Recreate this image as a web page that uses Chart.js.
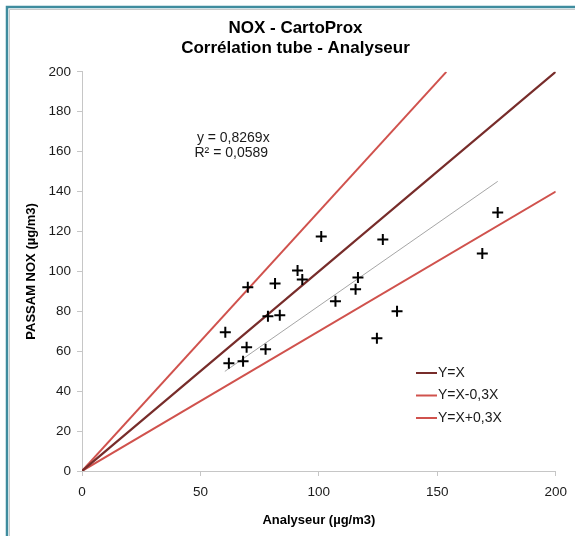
<!DOCTYPE html>
<html>
<head>
<meta charset="utf-8">
<script src="https://cdn.jsdelivr.net/npm/chart.js@4.4.1/dist/chart.umd.min.js"></script>
<style>
  html, body { margin: 0; padding: 0; background: #fff; }
  #wrap { width: 575px; height: 536px; }
</style>
</head>
<body>
<div id="wrap"><canvas id="noxChart" width="575" height="536"></canvas></div>
<script>
// mesures : analyseur (x) / tube passif (y)
const mesureX = [70, 81.5, 101, 91, 93, 127, 175.5, 169, 116.5, 115.5, 107, 133, 124.5, 78.5, 83.5, 60.5, 69.5, 77.5, 62, 68];
const mesureY = [92, 94, 117.5, 100.5, 96, 116, 129.5, 109, 97, 91, 85, 80, 66.5, 77.5, 78, 69.5, 62, 61, 54, 55];

// droite de tendance
const trendX = [60.3, 175.5];
const trendY = [49.9, 145.1];

// droites de reference
const refX = [0, 200];
const refY = [0, 200];
const lowX = [0, 200];
const lowY = [0, 140];
const highX = [0, 153.8];
const highY = [0, 200];

const xTicks = [0, 50, 100, 150, 200];
const yTicks = [0, 20, 40, 60, 80, 100, 120, 140, 160, 180, 200];

const titleLines = ['NOX - CartoProx', 'Corrélation tube - Analyseur'];
const equationLines = ['y = 0,8269x', 'R² = 0,0589'];

const FONT = "'Liberation Sans', Arial, sans-serif";
const toPoints = (xs, ys) => xs.map((x, i) => ({ x: x, y: ys[i] }));

Chart.defaults.font.family = FONT;
Chart.defaults.color = '#1a1a1a';

// fond + cadre
const cadre = {
    id: 'cadre',
    beforeDraw(chart) {
        const c = chart.ctx;
        c.save();
        c.fillStyle = '#fff';
        c.fillRect(0, 0, chart.width, chart.height);
        c.strokeStyle = '#3f8c9e';
        c.lineWidth = 2.5;
        c.beginPath();
        c.moveTo(7, chart.height); c.lineTo(7, 7); c.lineTo(chart.width, 7);
        c.stroke();
        c.strokeStyle = '#c9c9c9';
        c.lineWidth = 1;
        c.beginPath();
        c.moveTo(9.5, chart.height); c.lineTo(9.5, 9.5); c.lineTo(chart.width, 9.5);
        c.stroke();
        c.restore();
    }
};

// equation + legende dans la zone de tracé
const annotations = {
    id: 'annotations',
    afterDatasetsDraw(chart) {
        const c = chart.ctx;
        const ca = chart.chartArea;
        const xs = chart.scales.x, ys = chart.scales.y;
        c.save();
        c.font = '14px ' + FONT;
        c.fillStyle = '#1a1a1a';
        c.textBaseline = 'middle';
        c.textAlign = 'left';
        c.fillText(equationLines[0], xs.getPixelForValue(48.5), ys.getPixelForValue(167));
        c.fillText(equationLines[1], xs.getPixelForValue(47.5), ys.getPixelForValue(159));

        const items = chart.data.datasets.filter(d => d.label && d.label.indexOf('Y=') === 0);
        let y = ca.bottom - 98;
        items.forEach(d => {
            c.strokeStyle = d.borderColor;
            c.lineWidth = 2;
            c.beginPath();
            c.moveTo(ca.left + 334, y); c.lineTo(ca.left + 355, y);
            c.stroke();
            c.fillText(d.label, ca.left + 356, y);
            y += 22.5;
        });
        c.restore();
    }
};

const ctx = document.getElementById('noxChart').getContext('2d');

new Chart(ctx, {
    type: 'scatter',
    data: {
        datasets: [
            {
                label: 'Mesures',
                data: toPoints(mesureX, mesureY),
                pointStyle: 'cross',
                pointRadius: 5.5,
                pointBorderWidth: 2,
                borderColor: '#000',
                backgroundColor: '#000'
            },
            {
                label: 'Tendance',
                data: toPoints(trendX, trendY),
                showLine: true,
                pointRadius: 0,
                borderColor: '#a6a6a6',
                borderWidth: 1
            },
            {
                label: 'Y=X',
                data: toPoints(refX, refY),
                showLine: true,
                pointRadius: 0,
                borderColor: '#772c2a',
                borderWidth: 2.25
            },
            {
                label: 'Y=X-0,3X',
                data: toPoints(lowX, lowY),
                showLine: true,
                pointRadius: 0,
                borderColor: '#d0524d',
                borderWidth: 2
            },
            {
                label: 'Y=X+0,3X',
                data: toPoints(highX, highY),
                showLine: true,
                pointRadius: 0,
                borderColor: '#d0524d',
                borderWidth: 2
            }
        ]
    },
    options: {
        responsive: false,
        animation: false,
        devicePixelRatio: 1,
        layout: { padding: { left: 16, top: 8, right: 0, bottom: 0 } },
        plugins: {
            legend: { display: false },
            tooltip: { enabled: false },
            title: {
                display: true,
                text: titleLines,
                color: '#000',
                font: { size: 17, weight: 'bold', lineHeight: 1.2 },
                padding: { top: 10, bottom: 13 }
            }
        },
        scales: {
            x: {
                type: 'linear',
                min: 0,
                max: 200,
                afterBuildTicks: s => { s.ticks = xTicks.map(v => ({ value: v })); },
                afterFit: s => { s.height = 65; },
                grid: { drawOnChartArea: false, color: '#c6c6c6', tickLength: 5 },
                border: { color: '#c6c6c6' },
                ticks: { padding: 8, maxRotation: 0, font: { size: 13.5 } },
                title: {
                    display: true,
                    text: 'Analyseur (µg/m3)',
                    color: '#000',
                    font: { size: 13, weight: 'bold' },
                    padding: { top: 0, bottom: 8 }
                }
            },
            y: {
                type: 'linear',
                min: 0,
                max: 200,
                afterBuildTicks: s => { s.ticks = yTicks.map(v => ({ value: v })); },
                afterFit: s => { s.width = 66; },
                grid: { drawOnChartArea: false, color: '#c6c6c6', tickLength: 5 },
                border: { color: '#c6c6c6' },
                ticks: { padding: 6, font: { size: 13.5 } },
                title: {
                    display: true,
                    text: 'PASSAM NOX (µg/m3)',
                    color: '#000',
                    font: { size: 13, weight: 'bold' },
                    padding: { top: 8, bottom: 0 }
                }
            },
            marge: {
                type: 'linear',
                position: 'right',
                afterFit: s => { s.width = 19; },
                grid: { display: false },
                border: { display: false },
                ticks: { display: false }
            }
        }
    },
    plugins: [cadre, annotations]
});
</script>
</body>
</html>
